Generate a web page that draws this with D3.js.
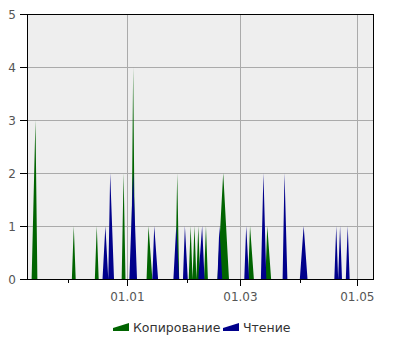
<!DOCTYPE html>
<html>
<head>
<meta charset="utf-8">
<script src="https://cdn.jsdelivr.net/npm/d3@7"></script>
<style>
  html, body { margin: 0; padding: 0; background: #fff; }
  svg { display: block; font-family: "DejaVu Sans", sans-serif; }
</style>
</head>
<body>
<svg id="chart" width="400" height="350"></svg>
<script>
// ---- Data ----
const seriesNames = ["Копирование", "Чтение"];
const seriesColors = ["#006400", "#00008b"];

// "Копирование" (copy) points, including the zero points that form each spike
const copyDates = [
  "2012-11-12", "2012-11-14", "2012-11-15",
  "2012-12-03", "2012-12-04", "2012-12-05",
  "2012-12-15", "2012-12-16", "2012-12-17",
  "2012-12-29", "2012-12-30", "2012-12-31",
  "2013-01-03", "2013-01-04", "2013-01-05",
  "2013-01-11", "2013-01-12", "2013-01-14",
  "2013-01-26", "2013-01-27", "2013-01-28",
  "2013-02-02", "2013-02-03", "2013-02-04", "2013-02-05", "2013-02-06", "2013-02-07", "2013-02-08",
  "2013-02-10", "2013-02-11", "2013-02-12",
  "2013-02-17", "2013-02-20", "2013-02-23",
  "2013-03-05", "2013-03-06", "2013-03-08",
  "2013-03-14", "2013-03-15", "2013-03-17"
];
const copyValues = [
  0, 3, 0,
  0, 1, 0,
  0, 1, 0,
  0, 2, 0,
  0, 4, 0,
  0, 1, 0,
  0, 2, 0,
  0, 1, 0, 1, 0, 1, 0,
  0, 1, 0,
  0, 2, 0,
  0, 1, 0,
  0, 1, 0
];

// "Чтение" (read) points
const readDates = [
  "2012-12-19", "2012-12-20T12:00", "2012-12-22", "2012-12-23", "2012-12-25",
  "2013-01-02", "2013-01-04", "2013-01-06",
  "2013-01-14", "2013-01-15", "2013-01-17",
  "2013-01-25", "2013-01-26T12:00", "2013-01-28",
  "2013-01-30", "2013-01-31", "2013-02-01T12:00",
  "2013-02-07", "2013-02-09", "2013-02-10T06:00",
  "2013-02-17", "2013-02-18", "2013-02-19T12:00",
  "2013-03-03", "2013-03-04", "2013-03-05T12:00",
  "2013-03-11T16:00", "2013-03-13", "2013-03-14T12:00",
  "2013-03-23", "2013-03-24", "2013-03-25T12:00",
  "2013-04-01", "2013-04-03", "2013-04-05",
  "2013-04-19", "2013-04-20", "2013-04-21", "2013-04-22", "2013-04-23",
  "2013-04-25", "2013-04-26", "2013-04-27"
];
const readValues = [
  0, 1, 0, 2, 0,
  0, 2, 0,
  0, 1, 0,
  0, 1, 0,
  0, 1, 0,
  0, 1, 0,
  0, 1, 0,
  0, 1, 0,
  0, 2, 0,
  0, 2, 0,
  0, 1, 0,
  0, 1, 0, 1, 0,
  0, 1, 0
];

const xDomain = ["2012-11-09T14:00", "2013-05-09T17:00"];
const yTicks = [0, 1, 2, 3, 4, 5];
const labeledMonths = [0, 2, 4]; // January, March, May get labels + grid lines

// ---- Layout ----
const svg = d3.select("#chart");
const pL = 27, pT = 14, pR = 374, pB = 279;

const parse = s => new Date(s + (s.length === 10 ? "T00:00:00Z" : ":00Z"));

const x = d3.scaleUtc().domain(xDomain.map(parse)).range([pL, pR]);
const y = d3.scaleLinear().domain([0, 5]).range([pB, pT]);

// plot background
svg.append("rect")
  .attr("x", pL).attr("y", pT)
  .attr("width", pR - pL).attr("height", pB - pT)
  .attr("fill", "#eeeeee");

// grid lines
const months = x.ticks(d3.utcMonth.every(1));
const majorMonths = months.filter(d => labeledMonths.includes(d.getUTCMonth()));
const minorMonths = months.filter(d => !labeledMonths.includes(d.getUTCMonth()));

svg.append("g").selectAll("line").data(yTicks.slice(1, -1)).join("line")
  .attr("x1", pL).attr("x2", pR)
  .attr("y1", d => Math.round(y(d)) + 0.5).attr("y2", d => Math.round(y(d)) + 0.5)
  .attr("stroke", "#aaaaaa").attr("stroke-width", 1);

svg.append("g").selectAll("line").data(majorMonths).join("line")
  .attr("x1", d => Math.round(x(d)) + 0.5).attr("x2", d => Math.round(x(d)) + 0.5)
  .attr("y1", pT).attr("y2", pB)
  .attr("stroke", "#aaaaaa").attr("stroke-width", 1);

// series areas
const area = d3.area()
  .x(d => x(d.date))
  .y0(y(0))
  .y1(d => y(d.value));

const copyPts = copyDates.map((d, i) => ({ date: parse(d), value: copyValues[i] }));
const readPts = readDates.map((d, i) => ({ date: parse(d), value: readValues[i] }));

svg.append("path").datum(copyPts).attr("d", area).attr("fill", seriesColors[0]);
svg.append("path").datum(readPts).attr("d", area).attr("fill", seriesColors[1]);

// frame
svg.append("rect")
  .attr("x", pL + 0.5).attr("y", pT + 0.5)
  .attr("width", pR - pL - 1).attr("height", pB - pT)
  .attr("fill", "none").attr("stroke", "#000").attr("stroke-width", 1);

// y axis
const yAxis = svg.append("g");
yAxis.selectAll("line").data(yTicks).join("line")
  .attr("x1", pL - 7).attr("x2", pL)
  .attr("y1", d => Math.round(y(d)) + 0.5).attr("y2", d => Math.round(y(d)) + 0.5)
  .attr("stroke", "#000");
yAxis.selectAll("text").data(yTicks).join("text")
  .attr("x", pL - 11).attr("y", d => y(d) + 0.5)
  .attr("dy", "0.35em")
  .attr("text-anchor", "end")
  .attr("font-size", 12)
  .attr("fill", "#555")
  .text(d => d);

// x axis ticks
const xAxis = svg.append("g");
xAxis.selectAll("line.major").data(majorMonths).join("line")
  .attr("class", "major")
  .attr("x1", d => Math.round(x(d)) + 0.5).attr("x2", d => Math.round(x(d)) + 0.5)
  .attr("y1", pB).attr("y2", pB + 7)
  .attr("stroke", "#000");
xAxis.selectAll("line.minor").data(minorMonths).join("line")
  .attr("class", "minor")
  .attr("x1", d => Math.round(x(d)) + 0.5).attr("x2", d => Math.round(x(d)) + 0.5)
  .attr("y1", pB).attr("y2", pB + 4)
  .attr("stroke", "#000");
const fmt = d3.utcFormat("%d.%m");
xAxis.selectAll("text").data(majorMonths).join("text")
  .attr("x", d => x(d)).attr("y", pB + 22)
  .attr("text-anchor", "middle")
  .attr("font-size", 12)
  .attr("fill", "#555")
  .text(d => fmt(d));

// legend
const legend = svg.append("g");
const legendItems = [
  { name: seriesNames[0], color: seriesColors[0], x: 113 },
  { name: seriesNames[1], color: seriesColors[1], x: 223 }
];
const ly = 331;
legendItems.forEach(it => {
  legend.append("path")
    .attr("d", `M${it.x},${ly} L${it.x + 16},${ly} L${it.x + 16},${ly - 8} L${it.x},${ly - 3} Z`)
    .attr("fill", it.color);
  legend.append("text")
    .attr("x", it.x + 20).attr("y", ly + 0.5)
    .attr("font-size", 12.5)
    .attr("fill", "#333")
    .text(it.name);
});
</script>
</body>
</html>
